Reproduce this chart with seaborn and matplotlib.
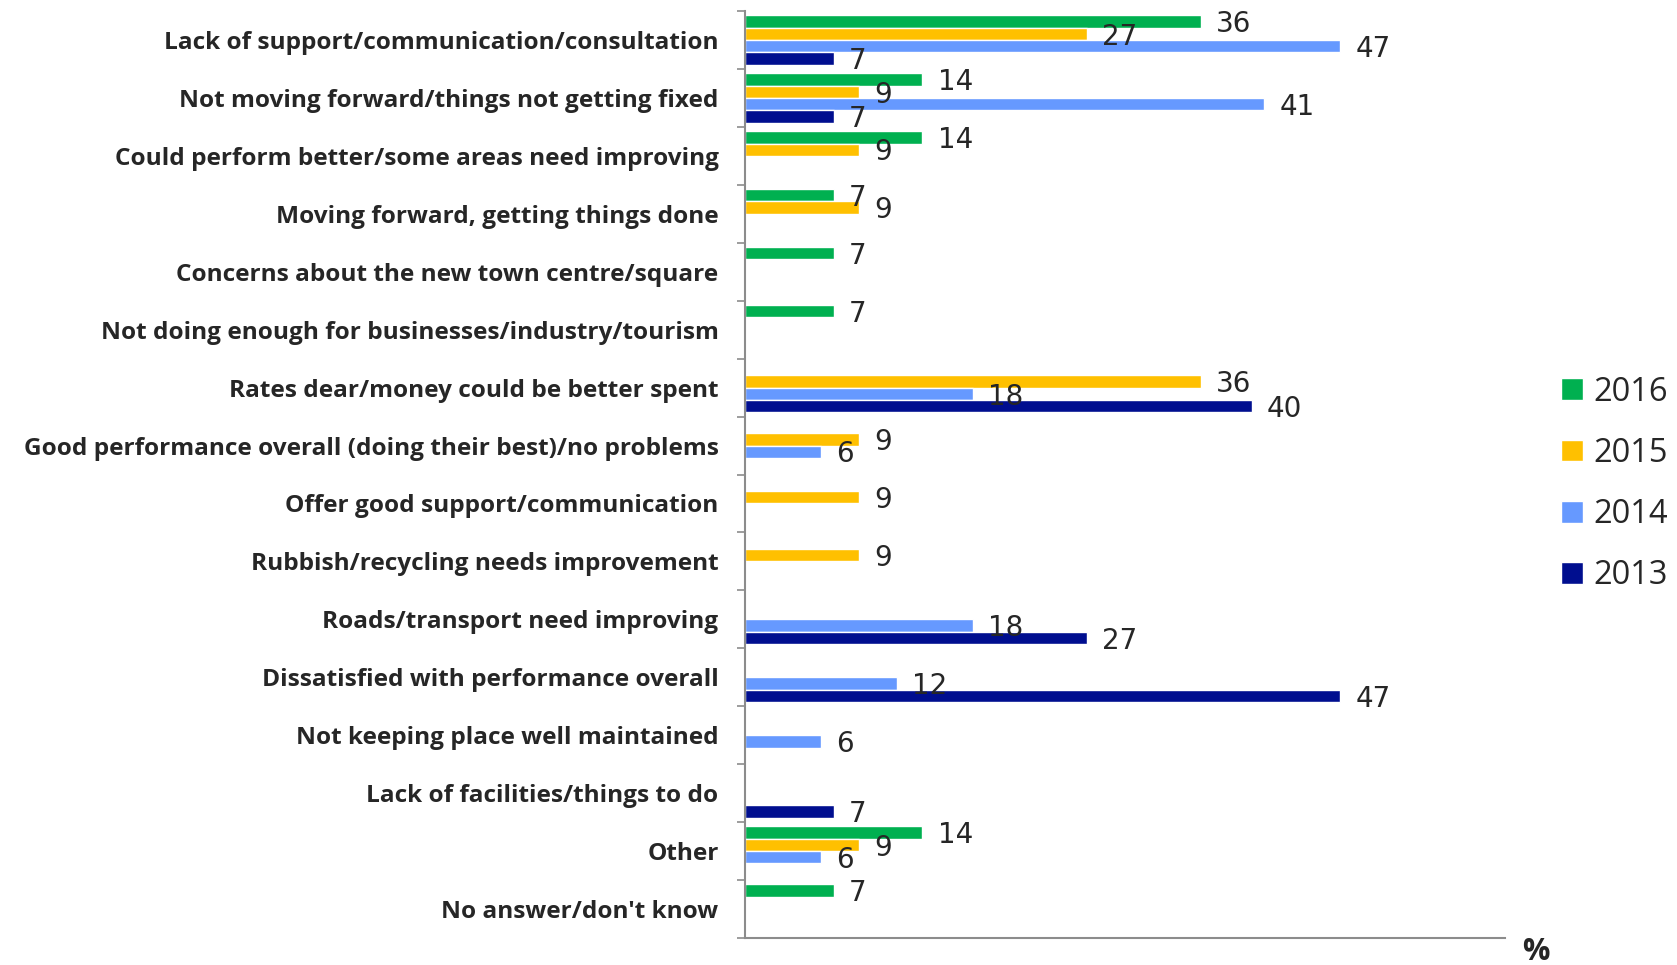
import numpy as np
import pandas as pd
import matplotlib
matplotlib.use("Agg")
import matplotlib.pyplot as plt
import seaborn as sns

categories = [
    "Lack of support/communication/consultation",
    "Not moving forward/things not getting fixed",
    "Could perform better/some areas need improving",
    "Moving forward, getting things done",
    "Concerns about the new town centre/square",
    "Not doing enough for businesses/industry/tourism",
    "Rates dear/money could be better spent",
    "Good performance overall (doing their best)/no problems",
    "Offer good support/communication",
    "Rubbish/recycling needs improvement",
    "Roads/transport need improving",
    "Dissatisfied with performance overall",
    "Not keeping place well maintained",
    "Lack of facilities/things to do",
    "Other",
    "No answer/don't know",
]
nan = np.nan
y2016 = [36, 14, 14, 7, 7, 7, nan, nan, nan, nan, nan, nan, nan, nan, 14, 7]
y2015 = [27, 9, 9, 9, nan, nan, 36, 9, 9, 9, nan, nan, nan, nan, 9, nan]
y2014 = [47, 41, nan, nan, nan, nan, 18, 6, nan, nan, 18, 12, 6, nan, 6, nan]
y2013 = [7, 7, nan, nan, nan, nan, 40, nan, nan, nan, 27, 47, nan, 7, nan, nan]
years = ["2016", "2015", "2014", "2013"]
colors = ["#00B050", "#FFC000", "#6699FF", "#000E8F"]

frames = []
for yr, vals in zip(years, [y2016, y2015, y2014, y2013]):
    frames.append(pd.DataFrame({"category": categories, "year": yr, "pct": vals}))
df = pd.concat(frames, ignore_index=True).dropna()

sns.set_theme(style="white")
plt.rcParams["font.family"] = ["Open Sans", "DejaVu Sans"]

fig = plt.figure(figsize=(16.77, 9.65), dpi=100)
ax = fig.add_axes([745 / 1677, 27 / 965, 760 / 1677, 927 / 965])

sns.barplot(data=df, y="category", x="pct", hue="year", order=categories,
            hue_order=years, palette=colors, orient="h", width=0.85,
            saturation=1, ax=ax, legend=True)

ax.set_xlim(0, 60)
ax.set_ylim(len(categories) - 0.5, -0.5)
ax.set_xlabel("")
ax.set_ylabel("")
ax.set_xticks([])

for lbl in ax.get_yticklabels():
    lbl.set_fontweight("bold")
    lbl.set_fontsize(17.6)
    lbl.set_color("#262626")
    lbl.set_family(["Open Sans", "DejaVu Sans"])
ax.tick_params(axis="y", which="major", length=0, pad=19)
ax.set_yticks(np.arange(-0.5, len(categories), 1.0), minor=True)
ax.tick_params(axis="y", which="minor", length=6, width=1.2, color="#8c8c8c",
               direction="out", left=True)

for side in ["top", "right"]:
    ax.spines[side].set_visible(False)
for side in ["left", "bottom"]:
    ax.spines[side].set_color("#8c8c8c")
    ax.spines[side].set_linewidth(1.5)

# value labels next to each bar
for cont in ax.containers:
    for patch in cont:
        w = patch.get_width()
        if np.isnan(w):
            continue
        yc = patch.get_y() + patch.get_height() / 2
        ax.annotate(f"{w:g}", xy=(w, yc), xytext=(11, -2), textcoords="offset points",
                    ha="left", va="center", fontsize=20, color="#262626",
                    family=["Liberation Sans Narrow", "DejaVu Sans"])

handles, labels = ax.get_legend_handles_labels()
ax.legend_.remove()
fig.legend(handles, labels, loc="center left", bbox_to_anchor=(1545 / 1677, 1 - 484 / 965),
           frameon=False, fontsize=23.5, handlelength=0.65, handleheight=0.65,
           handletextpad=0.33, labelspacing=0.865, borderpad=0, labelcolor="#262626")

fig.text(1536 / 1677, 1 - 952 / 965, "%", fontsize=22, fontweight="bold",
         color="#262626", ha="center", va="center")

fig.savefig("out.png", dpi=100)
